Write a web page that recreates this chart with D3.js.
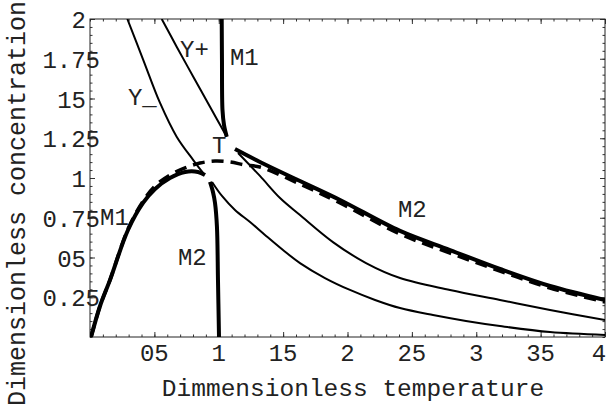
<!DOCTYPE html>
<html>
<head>
<meta charset="utf-8">
<script src="https://cdn.jsdelivr.net/npm/d3@7"></script>
<style>
  body { margin: 0; background: #fff; }
  svg { display: block; }
  text { font-family: "Liberation Mono", "Courier New", monospace; fill: #222; }
</style>
</head>
<body>
<svg id="chart"></svg>
<script>
// tick values and their labels, as printed
const xTicks = [0.5, 1, 1.5, 2, 2.5, 3, 3.5, 4];
const xTickLabels = ['05', '1', '15', '2', '25', '3', '35', '4'];
const yTicks = [0.25, 0.5, 0.75, 1, 1.25, 1.5, 1.75, 2];
const yTickLabels = ['0.25', '05', '0.75', '1', '1.25', '15', '1.75', '2'];

// curves, [temperature, concentration]
const yMinusUpper = [[0.290, 2.0], [0.414, 1.742], [0.544, 1.472], [0.673, 1.260], [0.802, 1.113], [0.880, 1.030]];
const yMinusLower = [[0.948, 0.975], [1.025, 0.887], [1.126, 0.799], [1.243, 0.723], [1.359, 0.642], [1.499, 0.547],
    [1.631, 0.465], [1.825, 0.371], [2.019, 0.296], [2.214, 0.233], [2.408, 0.182], [2.664, 0.138], [2.920, 0.101],
    [3.184, 0.069], [3.573, 0.031], [4.0, 0.013]];
const yPlusUpper = [[0.557, 2.0], [0.673, 1.826], [0.802, 1.637], [0.932, 1.448], [1.062, 1.260]];
const yPlusLower = [[1.150, 1.157], [1.320, 1.013], [1.476, 0.874], [1.631, 0.767], [1.887, 0.597], [2.144, 0.465],
    [2.408, 0.371], [2.796, 0.296], [3.184, 0.233], [3.573, 0.170], [4.0, 0.107]];
const m1Upper = [[1.023, 2.0], [1.025, 1.742], [1.029, 1.428], [1.041, 1.333], [1.062, 1.260]];
const m1Left = [[0.008, 0], [0.078, 0.195], [0.155, 0.358], [0.295, 0.673], [0.412, 0.843], [0.505, 0.931],
    [0.621, 1.0], [0.738, 1.038], [0.839, 1.038], [0.893, 1.019]];
const m2Lower = [[0.932, 0.975], [0.955, 0.912], [0.971, 0.843], [0.986, 0.692], [0.994, 0.358], [1.002, 0]];
const m2Right = [[1.126, 1.182], [1.320, 1.101], [1.631, 0.981], [1.942, 0.862], [2.408, 0.667], [2.796, 0.547],
    [3.184, 0.428], [3.573, 0.321], [4.0, 0.233]];
const dashedCurve = [[0.008, 0], [0.078, 0.195], [0.155, 0.358], [0.295, 0.679], [0.412, 0.855], [0.505, 0.950],
    [0.621, 1.019], [0.738, 1.063], [0.854, 1.094], [0.971, 1.107], [1.087, 1.101], [1.204, 1.082], [1.320, 1.069],
    [1.631, 0.962], [1.942, 0.843], [2.408, 0.648], [2.796, 0.528], [3.184, 0.415], [3.573, 0.308], [4.0, 0.220]];

// curve names, anchored at [temperature, concentration]
const curveLabels = [
    { text: 'Y+', at: [0.699, 1.761] },
    { text: 'M1', at: [1.087, 1.711] },
    { text: 'Y_', at: [0.295, 1.459] },
    { text: 'T', at: [0.948, 1.157] },
    { text: 'M1', at: [0.078, 0.704] },
    { text: 'M2', at: [0.683, 0.453] },
    { text: 'M2', at: [2.392, 0.755] }
];

const width = 607, height = 408;
const margin = { top: 19, right: 2, bottom: 71, left: 90 };
const innerW = width - margin.left - margin.right;
const innerH = height - margin.top - margin.bottom;

const svg = d3.select('#chart')
    .attr('width', width)
    .attr('height', height);

const x = d3.scaleLinear().domain([0, 4]).range([margin.left, margin.left + innerW]);
const y = d3.scaleLinear().domain([0, 2]).range([margin.top + innerH, margin.top]);

const xMinor = d3.range(0, 41).map(i => i / 10);
const yMinor = d3.range(0, 41).map(i => i / 20);

// inward ticks on all four sides
function ticks(axisFn, scale, pos, values, size) {
    const g = svg.append('g')
        .attr('transform', pos)
        .call(axisFn(scale).tickValues(values).tickSize(-size).tickFormat(''));
    g.select('.domain').remove();
    g.selectAll('line').attr('stroke', '#333').attr('stroke-width', 1);
}
[[xMinor, 2.5], [xTicks, 5]].forEach(([v, s]) => {
    ticks(d3.axisBottom, x, `translate(0,${y(0)})`, v, s);
    ticks(d3.axisTop, x, `translate(0,${y(2)})`, v, s);
});
[[yMinor, 2.5], [yTicks, 5]].forEach(([v, s]) => {
    ticks(d3.axisLeft, y, `translate(${x(0)},0)`, v, s);
    ticks(d3.axisRight, y, `translate(${x(4)},0)`, v, s);
});

svg.append('rect')
    .attr('x', x(0)).attr('y', y(2))
    .attr('width', x(4) - x(0)).attr('height', y(0) - y(2))
    .attr('fill', 'none')
    .attr('stroke', '#222')
    .attr('stroke-width', 1);

// tick labels (last one pulled in so it stays on the page)
svg.selectAll('.xlab')
    .data(xTicks)
    .join('text')
    .attr('class', 'xlab')
    .attr('x', d => Math.min(x(d), width - 8))
    .attr('y', y(0) + 24)
    .attr('text-anchor', 'middle')
    .style('font-size', '24px')
    .text((d, i) => xTickLabels[i]);

svg.selectAll('.ylab')
    .data(yTicks)
    .join('text')
    .attr('class', 'ylab')
    .attr('x', (d, i) => yTickLabels[i].includes('.') ? 100 : 86)
    .attr('y', d => y(d) + 9)
    .attr('text-anchor', 'end')
    .style('font-size', '24px')
    .text((d, i) => yTickLabels[i]);

// axis titles
svg.append('text')
    .attr('x', 353)
    .attr('y', 396)
    .attr('text-anchor', 'middle')
    .style('font-size', '24.5px')
    .text('Dimmensionless temperature');

svg.append('text')
    .attr('transform', 'translate(25,406) rotate(-90)')
    .attr('text-anchor', 'start')
    .style('font-size', '25px')
    .text('Dimensionless concentration');

// curves
svg.append('clipPath').attr('id', 'plot-clip')
    .append('rect')
    .attr('x', x(0)).attr('y', y(2))
    .attr('width', x(4) - x(0)).attr('height', y(0) - y(2));

const plot = svg.append('g').attr('clip-path', 'url(#plot-clip)');

const line = d3.line()
    .x(d => x(d[0]))
    .y(d => y(d[1]))
    .curve(d3.curveCatmullRom.alpha(0.5));

const thin = [yMinusUpper, yMinusLower, yPlusUpper, yPlusLower];
const thick = [m1Upper, m1Left, m2Lower, m2Right];

plot.selectAll('.thin')
    .data(thin)
    .join('path')
    .attr('class', 'thin')
    .attr('d', line)
    .attr('fill', 'none')
    .attr('stroke', '#000')
    .attr('stroke-width', 2);

plot.selectAll('.thick')
    .data(thick)
    .join('path')
    .attr('class', 'thick')
    .attr('d', line)
    .attr('fill', 'none')
    .attr('stroke', '#000')
    .attr('stroke-width', 4);

plot.append('path')
    .datum(dashedCurve)
    .attr('d', line)
    .attr('fill', 'none')
    .attr('stroke', '#000')
    .attr('stroke-width', 3.5)
    .attr('stroke-dasharray', '12,7');

// curve names
svg.selectAll('.clab')
    .data(curveLabels)
    .join('text')
    .attr('class', 'clab')
    .attr('x', d => x(d.at[0]))
    .attr('y', d => y(d.at[1]))
    .style('font-size', '24px')
    .text(d => d.text);
</script>
</body>
</html>
